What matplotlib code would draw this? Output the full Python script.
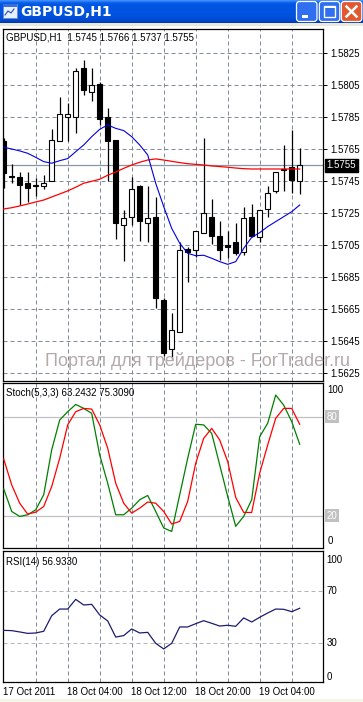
import matplotlib
matplotlib.use('Agg')
import matplotlib.pyplot as plt
import numpy as np
from matplotlib.patches import FancyBboxPatch, Rectangle

# ---------------- data ----------------
symbol = "GBPUSD,H1"
opens = [1.5770, 1.5748, 1.5748, 1.5744, 1.5742, 1.5742, 1.5745, 1.5770, 1.5785, 1.5785,
         1.5816, 1.5801, 1.5806, 1.5785, 1.5771, 1.5718, 1.5723, 1.5742, 1.5719, 1.5723,
         1.5671, 1.5640, 1.5651, 1.5703, 1.5702, 1.5713, 1.5723, 1.5711, 1.5705, 1.5707,
         1.5701, 1.5723, 1.5710, 1.5728, 1.5739, 1.5752, 1.5754, 1.5745]
highs = [1.5772, 1.5756, 1.5751, 1.5751, 1.5747, 1.5749, 1.5778, 1.5798, 1.5794, 1.5816,
         1.5821, 1.5816, 1.5807, 1.5791, 1.5771, 1.5727, 1.5748, 1.5743, 1.5742, 1.5735,
         1.5672, 1.5663, 1.5707, 1.5704, 1.5714, 1.5772, 1.5734, 1.5720, 1.5714, 1.5719,
         1.5729, 1.5731, 1.5727, 1.5742, 1.5751, 1.5768, 1.5777, 1.5766]
lows = [1.5741, 1.5744, 1.5730, 1.5732, 1.5736, 1.5740, 1.5745, 1.5770, 1.5770, 1.5775,
        1.5799, 1.5795, 1.5780, 1.5745, 1.5709, 1.5695, 1.5718, 1.5708, 1.5707, 1.5666,
        1.5636, 1.5634, 1.5651, 1.5682, 1.5698, 1.5713, 1.5706, 1.5696, 1.5697, 1.5699,
        1.5699, 1.5710, 1.5707, 1.5723, 1.5738, 1.5739, 1.5738, 1.5737]
closes = [1.5750, 1.5748, 1.5743, 1.5741, 1.5743, 1.5744, 1.5771, 1.5787, 1.5787, 1.5814,
          1.5802, 1.5805, 1.5784, 1.5770, 1.5719, 1.5722, 1.5740, 1.5720, 1.5722, 1.5672,
          1.5638, 1.5652, 1.5702, 1.5701, 1.5714, 1.5725, 1.5711, 1.5702, 1.5704, 1.5700,
          1.5722, 1.5711, 1.5727, 1.5738, 1.5751, 1.5753, 1.5746, 1.5755]
ma_fast = [1.57663, 1.57652, 1.57640, 1.57625, 1.57600, 1.57573, 1.57563, 1.57579, 1.57592, 1.57635,
           1.57677, 1.57729, 1.57775, 1.57802, 1.57781, 1.57767, 1.57729, 1.57677, 1.57615, 1.57438,
           1.57292, 1.57156, 1.57063, 1.57000, 1.56985, 1.56988, 1.56969, 1.56948, 1.56931, 1.56948,
           1.57031, 1.57100, 1.57129, 1.57167, 1.57198, 1.57229, 1.57260, 1.57302]
ma_slow = [1.57277, 1.57285, 1.57296, 1.57308, 1.57321, 1.57333, 1.57352, 1.57371, 1.57390, 1.57413,
           1.57438, 1.57450, 1.57463, 1.57488, 1.57508, 1.57531, 1.57552, 1.57569, 1.57583, 1.57590,
           1.57583, 1.57575, 1.57567, 1.57560, 1.57556, 1.57552, 1.57546, 1.57542, 1.57538, 1.57533,
           1.57529, 1.57527, 1.57527, 1.57527, 1.57527, 1.57527, 1.57527, 1.57527]
last_price = 1.5755
price_ticks = [1.5625, 1.5645, 1.5665, 1.5685, 1.5705, 1.5725, 1.5745, 1.5765, 1.5785, 1.5805, 1.5825]

stoch_main = [36.3, 22.6, 19.6, 20.6, 23.6, 32.7, 59.9, 78.0, 83.0, 87.4,
              85.0, 82.0, 56.8, 39.7, 20.6, 20.6, 24.6, 29.7, 32.3, 22.6,
              12.6, 10.5, 32.7, 54.8, 75.4, 75.0, 69.9, 50.8, 31.7, 13.6,
              19.6, 29.7, 67.9, 76.0, 93.1, 87.0, 77.0, 63.3]
stoch_signal = [54.4, 38.7, 27.6, 21.0, 22.2, 25.6, 37.7, 54.8, 75.0, 83.0,
                85.0, 84.6, 75.0, 60.9, 39.7, 27.6, 21.6, 24.6, 28.3, 27.6,
                22.6, 15.0, 16.6, 28.7, 51.8, 66.9, 72.9, 65.9, 52.8, 31.1,
                22.0, 22.0, 45.8, 62.9, 79.0, 85.0, 85.0, 75.4]
stoch_levels = [20, 80]
stoch_readout = [63.2432, 75.3090]

rsi = [39.9, 39.7, 38.7, 37.6, 37.9, 39.2, 51.1, 56.2, 56.2, 63.6,
       59.3, 59.8, 51.7, 47.1, 34.8, 35.9, 41.0, 37.9, 38.4, 30.0,
       25.7, 30.0, 42.5, 42.5, 45.0, 47.3, 45.3, 43.2, 43.8, 43.0,
       49.4, 46.3, 49.9, 53.2, 56.2, 56.0, 54.2, 56.8]
rsi_levels = [30, 70]
rsi_readout = 56.9330

time_labels = ["17 Oct 2011", "18 Oct 04:00", "18 Oct 12:00", "18 Oct 20:00", "19 Oct 04:00"]
time_label_bars = [0, 8, 16, 24, 32]

# ---------------- layout helpers ----------------
W, H = 363, 702
fig = plt.figure(figsize=(W / 100, H / 100), dpi=100)
fig.patch.set_facecolor('white')
FONT = 'Liberation Sans'
FS = 7.0


def add_ax(x0, y0, x1, y1, **kw):
    return fig.add_axes([x0 / W, 1 - y1 / H, (x1 - x0) / W, (y1 - y0) / H], **kw)


def ftext(x, y, s, **kw):
    kw.setdefault('fontfamily', FONT)
    kw.setdefault('fontsize', FS)
    kw.setdefault('va', 'center')
    return fig.text(x / W, 1 - y / H, s, **kw)


n = len(opens)
xs = np.arange(n)
X0, X1 = 2.7, 323.3
px_per_bar = 8.0
bar0_px = 3.7
xlim = ((X0 - bar0_px) / px_per_bar, (X1 - bar0_px) / px_per_bar)
vgrid = list(range(4, n, 4))
GRID = '#7f8c99'
DASH = (0, (4, 3))


def style_panel(ax):
    ax.set_xlim(*xlim)
    ax.set_facecolor('white')
    for s in ax.spines.values():
        s.set_color('black')
        s.set_linewidth(0.9)
    ax.set_xticks(vgrid)
    ax.tick_params(axis='x', length=0, labelbottom=False)
    for v in vgrid:
        ax.axvline(v, color=GRID, lw=0.72, ls=DASH, zorder=0.5)


# ---------------- title bar ----------------
tb = add_ax(0, 0, W, 23)
tb.set_xlim(0, W)
tb.set_ylim(23, 0)
tb.axis('off')
grad_cols = np.array([
    [0.24, 0.55, 0.98], [0.16, 0.47, 0.96], [0.05, 0.40, 0.93], [0.02, 0.36, 0.91],
    [0.00, 0.34, 0.90], [0.00, 0.33, 0.89], [0.00, 0.33, 0.89], [0.00, 0.33, 0.89],
    [0.00, 0.33, 0.89], [0.00, 0.33, 0.89], [0.00, 0.33, 0.89], [0.00, 0.33, 0.88],
    [0.00, 0.33, 0.88], [0.00, 0.32, 0.87], [0.00, 0.32, 0.87], [0.00, 0.32, 0.86],
    [0.00, 0.31, 0.85], [0.00, 0.31, 0.85], [0.00, 0.30, 0.84], [0.00, 0.29, 0.82],
    [0.00, 0.28, 0.80], [0.00, 0.26, 0.76], [0.00, 0.23, 0.70]])
tb.imshow(grad_cols[:, None, :], extent=(0, W, 23, 0), aspect='auto', interpolation='nearest')
# icon
tb.add_patch(Rectangle((3, 4), 14, 14, facecolor='#e8f0ff', edgecolor='#6a8ccc', lw=0.6))
tb.add_patch(Rectangle((3, 4), 14, 3, facecolor='#3a6ed8', edgecolor='none'))
tb.plot([5, 8, 11, 14], [15, 11, 13, 9], color='#2050b0', lw=0.8)
tb.text(20, 11.5, symbol, color='white', fontsize=10, fontweight='bold',
        fontfamily='DejaVu Sans', va='center', ha='left')
# buttons
for bx, col in [(296.5, '#2f6ff0'), (319.3, '#2f6ff0'), (341.3, '#e2572e')]:
    tb.add_patch(FancyBboxPatch((bx, 1.5), 20.5, 20, boxstyle='round,pad=0,rounding_size=3',
                                facecolor=col, edgecolor='white', lw=0.9))
tb.add_patch(Rectangle((301.5, 15), 6, 2.5, facecolor='white', edgecolor='none'))
tb.add_patch(Rectangle((324, 5.5), 11, 11, facecolor='none', edgecolor='white', lw=1.0))
tb.add_patch(Rectangle((324, 5.5), 11, 2.2, facecolor='white', edgecolor='none'))
tb.plot([346.5, 356.5], [6.5, 16.5], color='white', lw=1.8)
tb.plot([346.5, 356.5], [16.5, 6.5], color='white', lw=1.8)

# thin frame strip
fr = add_ax(0, 23, W, 26)
fr.axis('off')
fr.add_patch(Rectangle((0, 0), 1, 1, transform=fr.transAxes, facecolor='#ece9d8', edgecolor='none'))

# bottom strip
bs = add_ax(0, 699, W, H)
bs.axis('off')
bs.add_patch(Rectangle((0, 0), 1, 1, transform=bs.transAxes, facecolor='#f6f6e8', edgecolor='none'))

# ---------------- main price panel ----------------
ax = add_ax(X0, 29.3, X1, 381)
style_panel(ax)
ax.set_ylim(1.56202, 1.58400)
ax.yaxis.tick_right()
ax.set_yticks(price_ticks)
ax.set_yticklabels([f"{p:.4f}" for p in price_ticks], fontfamily=FONT, fontsize=FS)
ax.tick_params(axis='y', direction='out', length=3, width=0.7, pad=2)
for p in price_ticks:
    ax.axhline(p, color=GRID, lw=0.72, ls=DASH, zorder=0.5)
ax.axhline(last_price, color='#8a96a3', lw=0.9, zorder=0.8)

o = np.array(opens); c = np.array(closes); hi = np.array(highs); lo = np.array(lows)
ax.vlines(xs, lo, hi, color='black', lw=0.9, zorder=2)
bottoms = np.minimum(o, c)
heights = np.abs(c - o)
heights = np.where(heights < 1e-5, 1.2e-5, heights)
face = ['white' if cc > oo else 'black' for oo, cc in zip(o, c)]
ax.bar(xs, heights, bottom=bottoms, width=0.6, color=face, edgecolor='black', lw=0.8, zorder=3)
ax.plot(xs, ma_slow, color='#ff0000', lw=0.9, zorder=4)
ax.plot(xs, ma_fast, color='#0000e0', lw=0.8, zorder=4)

ftext(6.5, 37.5, f"{symbol}  " + " ".join(f"{v:.4f}" for v in [opens[-1], highs[-1], lows[-1], closes[-1]]))
ftext(326.5, 165.3, f"{last_price:.4f}", color='white',
      bbox=dict(facecolor='black', edgecolor='black', boxstyle='square,pad=0.18'))

# watermark
fig.text(45 / W, 1 - 366.5 / H, "Портал для трейдеров - ForTrader.ru", color='#b4aaaa',
         fontsize=13, fontfamily=FONT, va='baseline', ha='left', zorder=1)

# ---------------- stochastic panel ----------------
ax2 = add_ax(X0, 383.3, X1, 548.3)
style_panel(ax2)
ax2.set_ylim(0.3, 100.2)
ax2.set_yticks([])
for lv in stoch_levels:
    ax2.axhline(lv, color='#c0c0c0', lw=0.9, zorder=0.6)
ax2.plot(xs, stoch_main, color='#008000', lw=0.9, zorder=3)
ax2.plot(xs, stoch_signal, color='#ff0000', lw=0.9, zorder=3)
ftext(6.5, 393.5, f"Stoch(5,3,3) {stoch_readout[0]:.4f} {stoch_readout[1]:.4f}")
ftext(327.5, 390, "100")
for lv in stoch_levels:
    yy = 383.3 + (100.2 - lv) / (100.2 - 0.3) * (548.3 - 383.3)
    ftext(326.5, yy, f"{lv}", color='white',
          bbox=dict(facecolor='#c0c0c0', edgecolor='none', boxstyle='square,pad=0.15'))
ftext(327.5, 541.5, "0")

# ---------------- RSI panel ----------------
ax3 = add_ax(X0, 550.7, X1, 682.3)
style_panel(ax3)
ax3.set_ylim(0.2, 100.8)
ax3.set_yticks([])
for lv in rsi_levels:
    ax3.axhline(lv, color='#b4b4b4', lw=0.72, ls=DASH, zorder=0.6)
ax3.plot(xs, rsi, color='#1c1c70', lw=0.9, zorder=3)
ftext(6.5, 562, f"RSI(14) {rsi_readout:.4f}")
ftext(326.5, 560, "100")
for lv in rsi_levels:
    yy = 550.7 + (100.8 - lv) / (100.8 - 0.2) * (682.3 - 550.7)
    ftext(326.5, yy, f"{lv}")
ftext(326.5, 676.5, "0")

for lab, b in zip(time_labels, time_label_bars):
    ftext(bar0_px + b * px_per_bar - 0.5, 692, lab)

fig.savefig('out.png', dpi=100)
